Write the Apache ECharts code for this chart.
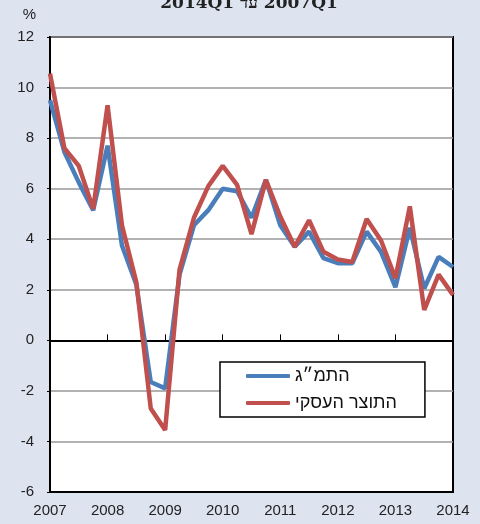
<!DOCTYPE html>
<html>
<head>
<meta charset="utf-8">
<script src="https://cdn.jsdelivr.net/npm/echarts@6/dist/echarts.min.js"></script>
<style>
  html, body { margin: 0; padding: 0; background: #dde4f0; }
  #chart { width: 480px; height: 524px; }
</style>
</head>
<body>
<div id="chart"></div>
<script>
// quarterly, 2007Q1 .. 2014Q1
var startYear = 2007;
var gdp = [9.5, 7.45, 6.25, 5.15, 7.7, 3.75, 2.2, -1.65, -1.9, 2.6,
           4.55, 5.15, 6.0, 5.9, 4.85, 6.35, 4.55, 3.7, 4.3, 3.25,
           3.05, 3.05, 4.3, 3.5, 2.1, 4.45, 2.05, 3.3, 2.9];
var business = [10.55, 7.6, 6.9, 5.2, 9.3, 4.55, 2.3, -2.7, -3.55, 2.8,
                4.85, 6.1, 6.9, 6.15, 4.2, 6.35, 4.9, 3.7, 4.75, 3.5,
                3.2, 3.1, 4.8, 3.95, 2.45, 5.3, 1.2, 2.6, 1.8];
var seriesNames = ["התמ״ג", "התוצר העסקי"];
var yTicks = [-6, -4, -2, 0, 2, 4, 6, 8, 10, 12];

function toPoints(arr) {
  return arr.map(function (v, i) { return [startYear + i / 4, v]; });
}

var font = "Liberation Sans";
var chart = echarts.init(document.getElementById("chart"));
chart.setOption({
  backgroundColor: "#dde4f0",
  animation: false,
  title: {
    text: "2014Q1{h|\u200E עד \u200E}2007Q1",
    left: 244,
    top: -10,
    textAlign: "center",
    textStyle: {
      fontFamily: "DejaVu Serif", fontSize: 17, fontWeight: "bold", color: "#222",
      rich: { h: { fontFamily: "DejaVu Serif", fontSize: 17, fontWeight: "bold", color: "#222" } }
    }
  },
  grid: {
    left: 50, right: 27, top: 37, bottom: 32,
    show: true, backgroundColor: "#fff", borderColor: "#000", borderWidth: 2
  },
  xAxis: [{
    type: "value", min: 2007, max: 2014, interval: 1, position: "bottom",
    axisLine: { onZero: false, lineStyle: { color: "#000", width: 2 } },
    axisTick: { show: false },
    splitLine: { show: false },
    axisLabel: {
      color: "#222", fontSize: 15, fontFamily: font, margin: 11,
      formatter: function (v) { return String(v); }
    }
  }, {
    type: "value", min: 2007, max: 2014, interval: 1, position: "bottom",
    axisLine: { onZero: true, lineStyle: { color: "#000", width: 2 } },
    axisTick: { inside: true, length: 6, lineStyle: { color: "#000", width: 1 } },
    splitLine: { show: false },
    axisLabel: { show: false }
  }],
  yAxis: {
    type: "value", min: yTicks[0], max: yTicks[yTicks.length - 1], interval: 2,
    name: "%", nameLocation: "end", nameGap: 15,
    nameTextStyle: { color: "#222", fontSize: 15, fontFamily: font, align: "right", padding: [0, 14, 0, 0] },
    axisLine: { show: true, lineStyle: { color: "#000", width: 2 } },
    axisTick: { show: true, length: 3, lineStyle: { color: "#000" } },
    splitLine: { lineStyle: { color: "#999", width: 1.5 } },
    axisLabel: { color: "#222", fontSize: 15, fontFamily: font, margin: 16 }
  },
  legend: {
    left: 220, top: 362,
    orient: "vertical",
    backgroundColor: "#fff", borderColor: "#000", borderWidth: 1.5,
    padding: [5, 28, 5, 26],
    itemWidth: 44, itemHeight: 4, itemGap: 9,
    icon: "roundRect",
    textStyle: { fontFamily: font, fontSize: 18, color: "#111" },
    data: seriesNames
  },
  series: [{
    name: seriesNames[0], type: "line", data: toPoints(gdp),
    showSymbol: false, symbol: "none",
    lineStyle: { color: "#4a7ebb", width: 4.5 }, itemStyle: { color: "#4a7ebb" }
  }, {
    name: seriesNames[1], type: "line", data: toPoints(business),
    showSymbol: false, symbol: "none",
    lineStyle: { color: "#c0504d", width: 4.5 }, itemStyle: { color: "#c0504d" }
  }]
});
</script>
</body>
</html>
